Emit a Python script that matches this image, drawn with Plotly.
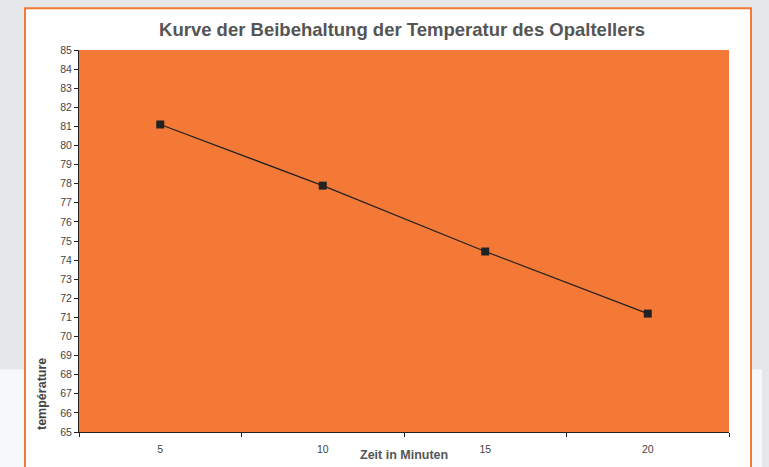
import plotly.graph_objects as go

# Data
minutes = ["5", "10", "15", "20"]
temperature = [81.1, 77.9, 74.45, 71.2]
y_ticks = list(range(65, 86))

title_text = "Kurve der Beibehaltung der Temperatur des Opaltellers"
x_title = "Zeit in Minuten"
y_title = "température"

FONT = "Liberation Sans, Arial, Helvetica, sans-serif"
ORANGE = "#f47937"
DARK = "#222222"

fig = go.Figure()
fig.add_trace(go.Scatter(
    x=minutes, y=temperature, mode="lines+markers",
    line=dict(color=DARK, width=1.2),
    marker=dict(symbol="square", size=8, color=DARK),
    showlegend=False, hoverinfo="x+y",
))

# plot area geometry (px): left 79, right 729, top 50, bottom 434
W, H = 769, 467
L, R, T, B = 79, 729, 50, 434
pw, ph = R - L, B - T

def px(x):
    return (x - L) / pw

def py(y):
    return (B - y) / ph

shapes = [
    # light lower band of the page background
    dict(type="rect", xref="paper", yref="paper", layer="below",
         x0=px(-10), x1=px(762), y0=py(490), y1=py(371),
         fillcolor="#f7f8fa", line=dict(width=0)),
    # card
    dict(type="rect", xref="paper", yref="paper", layer="below",
         x0=px(25), x1=px(751), y0=py(490), y1=py(8),
         fillcolor="white", line=dict(color=ORANGE, width=2)),
    # plot area
    dict(type="rect", xref="paper", yref="paper", layer="below",
         x0=0, x1=1, y0=0, y1=1,
         fillcolor=ORANGE, line=dict(width=0)),
]

annotations = [
    dict(text=f"<b>{x_title}</b>", xref="paper", yref="paper",
         x=px(404), y=py(457), xanchor="center", yanchor="middle",
         showarrow=False, font=dict(family=FONT, size=12.5, color="#555555")),
    dict(text=f"<b>{y_title}</b>", xref="paper", yref="paper",
         x=px(42), y=0, xanchor="center", yanchor="bottom", textangle=-90,
         showarrow=False, font=dict(family=FONT, size=12.5, color="#444444")),
]

fig.update_layout(
    width=W, height=H,
    margin=dict(l=L, r=W - R, t=T, b=H - B, pad=0),
    paper_bgcolor="#e6e7e9",
    plot_bgcolor=ORANGE,
    font=dict(family=FONT, color="#444444"),
    title=dict(text=f"<b>{title_text}</b>", x=402 / W, xanchor="center",
               y=1 - 30 / H, yanchor="middle", yref="container",
               font=dict(family=FONT, size=18.5, color="#555555")),
    shapes=shapes,
    annotations=annotations,
    xaxis=dict(type="category", categoryorder="array", categoryarray=minutes,
               range=[-0.5, len(minutes) - 0.5],
               showline=True, linecolor=DARK, linewidth=1,
               ticks="outside", ticklen=4, tickcolor=DARK, tickwidth=1,
               tickson="boundaries", showgrid=False, zeroline=False,
               ticklabelstandoff=7,
               tickfont=dict(family=FONT, size=10.5, color="#444444")),
    yaxis=dict(range=[65, 85], tickvals=y_ticks,
               showline=True, linecolor=DARK, linewidth=1,
               ticks="outside", ticklen=4, tickcolor=DARK, tickwidth=1,
               showgrid=False, zeroline=False,
               tickfont=dict(family=FONT, size=10.5, color="#444444")),
)

fig.write_html(
    "out.html",
    config={"displayModeBar": False},
    post_script="document.body.style.margin='0';document.body.style.overflow='hidden';",
)
